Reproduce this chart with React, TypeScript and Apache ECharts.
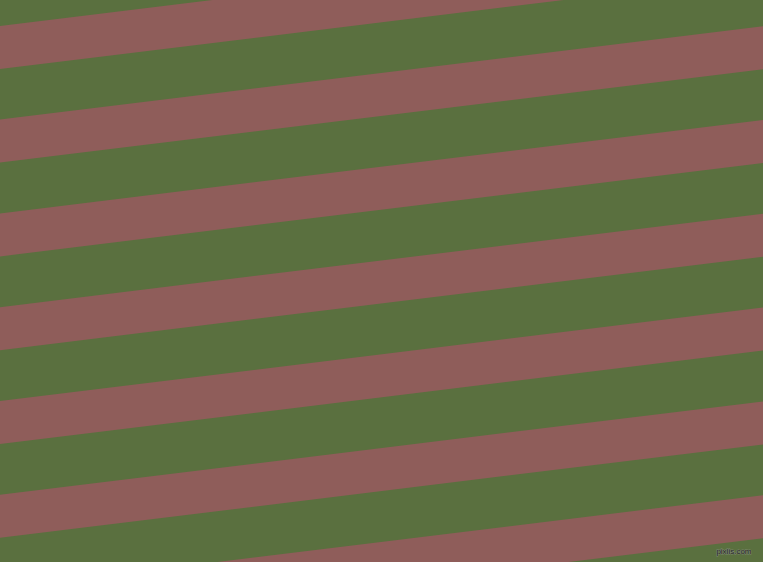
import { useEffect, useRef } from 'react';
import * as echarts from 'echarts';

// ---------------------------------------------------------------------------
// Data (in page pixels)
// ---------------------------------------------------------------------------

const PAGE_WIDTH = 763;
const PAGE_HEIGHT = 562;

// y of each pink band's upper edge at the left border
const stripeTops = [26, 119.6, 213.4, 307.2, 401, 494.8, 588.6];
// vertical thickness of one pink band
const stripeThickness = [43];
// how far a band rises from the left border to the right border
const stripeRise = [93.4];

const GREEN = '#5a703f';
const PINK = '#8f5d5a';

// ---------------------------------------------------------------------------
// Option
// ---------------------------------------------------------------------------

function buildOption(): echarts.EChartsOption {
  const rise = stripeRise[0];
  const data = stripeTops.map((top) => [top, stripeThickness[0]]);

  return {
    animation: false,
    backgroundColor: GREEN,
    grid: { left: 0, right: 0, top: 0, bottom: 0 },
    xAxis: { type: 'value', min: 0, max: PAGE_WIDTH, show: false },
    yAxis: { type: 'value', min: 0, max: PAGE_HEIGHT, inverse: true, show: false },
    series: [
      {
        type: 'custom',
        clip: true,
        data,
        renderItem: (params: any, api: any) => {
          const top = api.value(0);
          const h = api.value(1);
          const pts = [
            api.coord([0, top]),
            api.coord([PAGE_WIDTH, top - rise]),
            api.coord([PAGE_WIDTH, top - rise + h]),
            api.coord([0, top + h]),
          ];
          return {
            type: 'polygon',
            shape: { points: pts },
            style: { fill: PINK },
          };
        },
      },
    ],
    graphic: [
      {
        type: 'text',
        right: 11,
        bottom: 6,
        style: {
          text: 'pixlis.com',
          fontSize: 8,
          fontFamily: 'Liberation Sans',
          fill: '#262626',
          stroke: 'rgba(160,160,160,0.55)',
          lineWidth: 1,
        },
      },
    ],
  };
}

// ---------------------------------------------------------------------------
// Component
// ---------------------------------------------------------------------------

export default function App() {
  const containerRef = useRef<HTMLDivElement | null>(null);

  useEffect(() => {
    if (!containerRef.current) return;
    document.body.style.margin = '0';
    const chart = echarts.init(containerRef.current, undefined, { renderer: 'svg' });
    chart.setOption(buildOption());
    return () => {
      chart.dispose();
    };
  }, []);

  return (
    <div
      ref={containerRef}
      style={{ position: 'fixed', left: 0, top: 0, width: PAGE_WIDTH, height: PAGE_HEIGHT }}
    />
  );
}
